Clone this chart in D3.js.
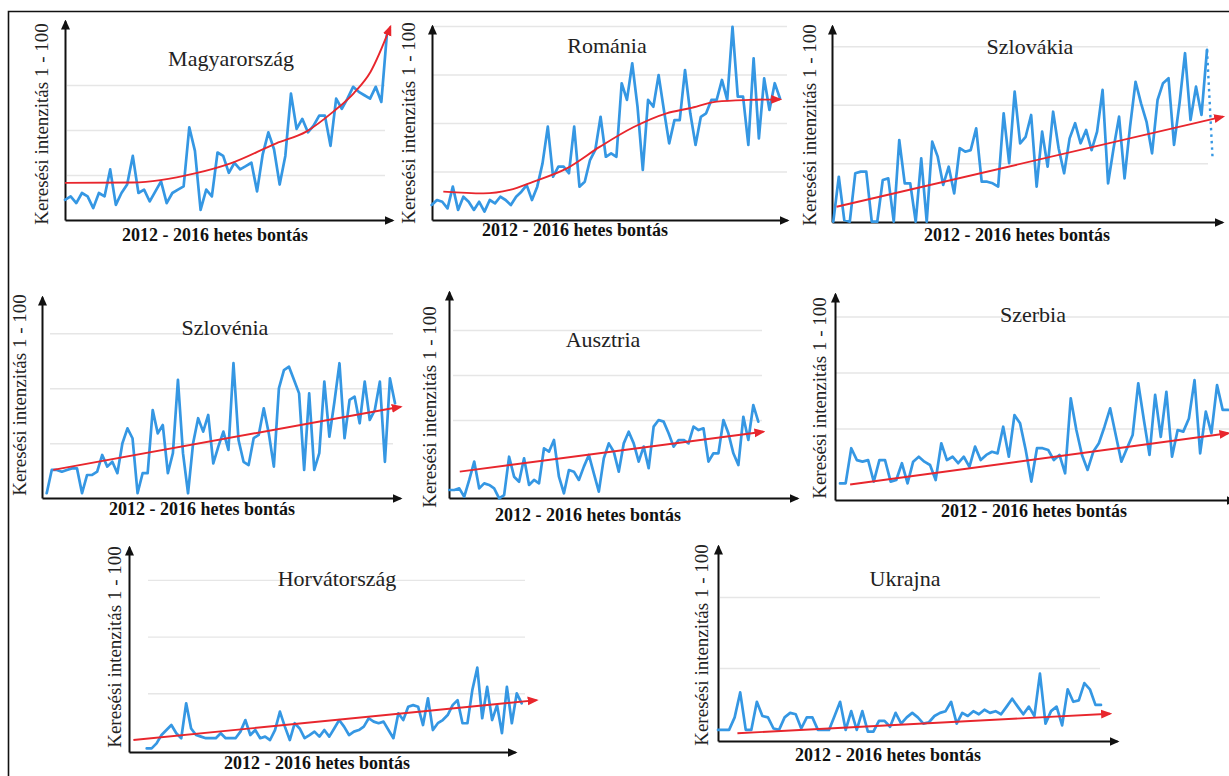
<!DOCTYPE html>
<html>
<head>
<meta charset="utf-8">
<script src="https://cdn.jsdelivr.net/npm/d3@7"></script>
<style>
  html, body { margin: 0; padding: 0; background: #fff; }
  svg { display: block; }
  svg text { font-family: "Liberation Serif", "DejaVu Serif", "Times New Roman", Times, serif; }
</style>
</head>
<body>
<svg id="chart" width="1229" height="776"></svg>
<script>
// ---- Data: weekly search intensity (0-100) per country, 2012-2016 ----
const countries = ["Magyarország", "Románia", "Szlovákia", "Szlovénia", "Ausztria", "Szerbia", "Horvátország", "Ukrajna"];
const xAxisLabel = "2012 - 2016 hetes bontás";
const yAxisLabel = "Keresési intenzitás 1 - 100";

const magyarorszag = [11.2,13.1,9.4,15,13.1,6.6,15,13.1,28.1,8.4,15,19.7,35.6,15,16.9,10.3,15.9,21.5,9.4,15,16.9,18.7,51.5,38.4,5.6,16.9,13.1,37.5,35.6,26.2,31.8,28.1,29.9,31.8,15.9,36.5,48.7,39.3,19.7,35.6,70.2,50.6,56.2,48.7,52.4,58,58,41.2,67.4,61.8,67.4,74,71.2,69.3,67.4,74,65.6,104];
const romania = [7.7,10.3,9.4,6,17.2,5.2,12,9.4,5.2,9.4,4.3,10.3,8.6,12,10.3,7.7,12,14.6,18,10.3,17.2,29.2,48.1,22.3,27.5,27.5,24.1,48.1,17.2,19.7,30.9,36.1,53.2,32.6,34.4,32.6,70.5,61.9,80.8,58.4,25.8,61.9,58.4,74.7,56.7,39.5,51.5,51.5,77.3,55,38.7,53.2,55,61.9,61.9,72.2,61.9,99.6,63.6,63.6,38.7,83.3,42.1,73,56.7,70.5,62.7];
const szlovakia = [0,19.2,0.7,0,20.7,21.4,21.4,0,0,17.8,18.5,0,34.9,16.4,16.4,0,27.1,0,34.2,27.8,15.7,23.5,12.1,31.4,29.9,30.6,39.9,17.1,17.1,16.4,15,46.3,25,55.6,33.5,36.3,45.6,15,38.5,23.5,47,31.4,20.7,35.6,42.1,33.5,39.2,30.6,38.5,56.3,16.4,31.4,44.9,18.5,40.6,59.8,50.6,42.7,29.2,52,59.2,61.3,32.8,50.6,72,43.5,57.7,45.6,73.4,27.6];
const szlovenia = [2.3,12.9,12.9,12.1,12.9,13.6,13.6,2.3,10.6,10.6,12.1,19.7,14.4,16.6,11.4,25,31.8,27.3,2.3,11.4,11.4,40.1,29.5,33.3,11.4,20.5,53.8,20.5,2.3,25,36.4,30.3,37.9,15.9,23.5,30.3,22,61.4,26.5,16.6,15.1,27.3,28.8,40.9,29.5,14.4,50,58.3,59.8,53.8,47.7,12.9,47.7,12.9,20.5,53,28,43.9,61.4,27.3,44.7,46.2,34.1,53,35.6,40.1,53,16.6,54.5,43.2];
const ausztria = [11.1,11.1,12,7.4,16.7,26.9,12,14.8,13.9,12,6.5,8.3,29.6,18.5,15.7,28.7,13.9,16.7,14.8,34.3,32.4,38.9,18.5,9.3,22.2,21.3,16.7,24.1,30.6,20.4,10.2,28.7,37,32.4,21.3,37,43.5,37,26.9,35.2,23.2,46.3,50,49.1,42.6,35.2,38.9,38.9,37,46.3,44.4,45.4,26.9,31.5,31.5,50,42.6,31.5,25,51.8,38.9,58.3,49.1];
const szerbia = [0.5,0.5,16.2,10.9,10.2,10.9,1.3,10.9,10.9,1.3,2,9.5,0.5,10.2,12.4,10.2,8.7,2,18.4,10.9,12.4,9.5,12.4,7.9,16.9,10.9,13.2,14.6,13.9,25.8,12.4,31,27.3,15.4,1.3,16.2,16.2,15.4,10.9,13.2,5,38.5,24.3,13.2,6.5,14.6,18.4,25.8,34,22.1,10.2,16.2,22.1,45.2,28.8,13.2,40,21.3,41.4,12.4,24.3,23.6,29.5,46.6,13.9,32.5,22.9,44.4,33.3,33.3];
const horvatorszag = [0.7,0.7,2.9,6.6,8.8,11,7.4,5.2,20.6,9.5,6.6,5.9,5.2,5.2,5.2,7.4,5.2,5.2,5.2,8.1,13.2,6.6,8.8,5.2,5.9,4.4,8.8,16.9,10.3,4.4,11.8,9.5,5.2,6.6,8.1,5.9,8.8,5.9,9.5,13.2,10.3,6.6,8.1,8.8,10.3,14,12.5,11.8,12.5,8.8,5.2,16.2,13.2,19.1,19.8,19.1,11,22.8,8.8,11.8,13.2,15.4,19.8,22,11.8,11.8,26.5,36.3,14,27.8,13.2,19.8,7.4,27.8,11.8,25,20.6];
const ukrajna = [3.2,3.2,3.2,7.6,16.4,3.2,3.2,13.1,8.1,7.6,3.7,3.2,7.6,9.2,8.7,3.7,7.6,7.6,3.2,3.2,3.2,8.1,13.1,3.2,9.8,3.2,9.8,2.6,2.6,6.4,6.4,4.3,9.2,5.4,7.6,9.2,7.6,5.4,5.9,8.1,9.2,9.8,13.1,5.4,9.2,8.1,9.8,8.7,10.3,9.2,9.8,8.7,11.4,14.2,11.4,8.7,11.4,8.1,23,5.4,9.8,11.4,4.8,17.5,13.1,13.6,19.7,17.5,12,12];

// Trend lines: [week index, value]
const trendMagyarorszag = [[0,20.6],[12,20.8],[23,25.9],[29.3,31.5],[37.4,42.6],[42.7,49.1],[47.5,60.2],[51.1,70.4],[54.1,82.4],[57.6,107.4]];
const trendRomania = [[2.2,14.6],[9.8,13.7],[14.8,15.5],[19.2,19.7],[25.6,26.6],[31.9,37.8],[38.2,47.8],[44.5,55],[48.9,57.6],[54,61],[60.3,61.9],[66,62.2]];
const trendSzlovakia = [[0.6,6.4],[70.9,44.9]];
const trendSzlovenia = [[1.3,12.9],[70.1,41.6]];
const trendAusztria = [[2.1,21.3],[63,43.5]];
const trendSzerbia = [[1.8,0],[69,22.9]];
const trendHorvatorszag = [[-2.7,4.4],[79,22]];
const trendUkrajna = [[3.5,2],[70.6,8.9]];

// Gridline values
const gridMagyarorszag = [25, 50, 75];
const gridRomania = [25, 50, 75, 100];
const gridSzlovakia = [25, 50, 75];
const gridSzlovenia = [25, 50, 75];
const gridAusztria = [50, 75, 100];
const gridSzerbia = [25, 50, 75];
const gridHorvatorszag = [25, 50, 75];
const gridUkrajna = [25, 50];

// ---- Layout of the eight small panels ----
const panels = [
  { name: countries[0], values: magyarorszag, trend: trendMagyarorszag, grid: gridMagyarorszag,
    line: [65, 387], zero: 220, hundred: 40, gridX: [67, 385],
    axisX: 65, axisY: 220, arrowX: 392, arrowY: 21,
    title: [231, 61], xlab: [215, 237], ylab: [44, 124] },
  { name: countries[1], values: romania, trend: trendRomania, grid: gridRomania,
    line: [431.7, 780], zero: 220, hundred: 26, gridX: [433, 787],
    axisX: 432, axisY: 220, arrowX: 787, arrowY: 26,
    title: [607, 48], xlab: [575, 232], ylab: [411, 123] },
  { name: countries[2], values: szlovakia, trend: trendSzlovakia, grid: gridSzlovakia, dottedTail: true,
    line: [833.3, 1212.5], zero: 221.7, hundred: -12.3, gridX: [833, 1208],
    axisX: 832, axisY: 222, arrowX: 1222, arrowY: 26,
    title: [1030, 49], xlab: [1017, 237], ylab: [812, 125] },
  { name: countries[3], values: szlovenia, trend: trendSzlovenia, grid: gridSzlovenia,
    line: [46.7, 395], zero: 498.3, hundred: 278.3, gridX: [50, 393],
    axisX: 42, axisY: 498, arrowX: 400, arrowY: 297,
    title: [225, 330], xlab: [202, 511], ylab: [22, 395] },
  { name: countries[4], values: ausztria, trend: trendAusztria, grid: gridAusztria,
    line: [449.3, 758.3], zero: 510, hundred: 330, gridX: [453, 762],
    axisX: 449, axisY: 498, arrowX: 797, arrowY: 292,
    title: [603, 342], xlab: [588, 517], ylab: [432, 407] },
  { name: countries[5], values: szerbia, trend: trendSzerbia, grid: gridSzerbia,
    line: [840, 1228.3], zero: 484.5, hundred: 260.5, gridX: [835, 1229],
    axisX: 835, axisY: 500, arrowX: 1234, arrowY: 294,
    title: [1033, 317], xlab: [1034, 513], ylab: [822, 398] },
  { name: countries[6], values: horvatorszag, trend: trendHorvatorszag, grid: gridHorvatorszag,
    line: [146.7, 521.7], zero: 750, hundred: 523.2, gridX: [148, 525],
    axisX: 129, axisY: 752, arrowX: 515, arrowY: 547,
    title: [337, 581], xlab: [317, 765], ylab: [117, 647] },
  { name: countries[7], values: ukrajna, trend: trendUkrajna, grid: gridUkrajna,
    line: [718, 1101], zero: 739, hundred: 455, gridX: [720, 1100],
    axisX: 718, axisY: 741, arrowX: 1117, arrowY: 546,
    title: [905, 581], xlab: [888, 757], ylab: [704, 645] }
];

const BLUE = "#3597e3";
const RED = "#e8262d";

const svg = d3.select("#chart");
const defs = svg.append("defs");

defs.append("marker")
  .attr("id", "axisHead").attr("viewBox", "0 -5 10 10")
  .attr("refX", 8).attr("refY", 0)
  .attr("markerWidth", 10).attr("markerHeight", 10)
  .attr("markerUnits", "userSpaceOnUse").attr("orient", "auto")
  .append("path").attr("d", "M0,-4.5L10,0L0,4.5Z").attr("fill", "#111");

defs.append("marker")
  .attr("id", "trendHead").attr("viewBox", "0 -5 10 10")
  .attr("refX", 8).attr("refY", 0)
  .attr("markerWidth", 11).attr("markerHeight", 11)
  .attr("markerUnits", "userSpaceOnUse").attr("orient", "auto")
  .append("path").attr("d", "M0,-4L10,0L0,4Z").attr("fill", RED);

// outer frame (left and top edges)
svg.append("path")
  .attr("d", "M8.5,776V11.5H1229")
  .attr("fill", "none").attr("stroke", "#111").attr("stroke-width", 1.6);

panels.forEach(p => {
  const g = svg.append("g").attr("class", "panel");
  const n = p.values.length;
  const x = d3.scaleLinear().domain([0, n - 1]).range(p.line);
  const y = d3.scaleLinear().domain([0, 100]).range([p.zero, p.hundred]);

  // horizontal gridlines
  const grid = g.append("g")
    .attr("transform", `translate(${p.gridX[0]},0)`)
    .call(d3.axisLeft(y).tickValues(p.grid).tickSize(-(p.gridX[1] - p.gridX[0])).tickFormat(""));
  grid.select(".domain").remove();
  grid.selectAll("line").attr("stroke", "#e6e6e6").attr("stroke-width", 1.4);

  // axes with arrowheads
  const xa = d3.scaleLinear().range([p.axisX, p.arrowX]);
  const xAxisG = g.append("g").attr("transform", `translate(0,${p.axisY})`)
    .call(d3.axisBottom(xa).tickValues([]).tickSizeOuter(0));
  xAxisG.select(".domain").attr("stroke", "#111").attr("stroke-width", 2).attr("marker-end", "url(#axisHead)");

  const ya = d3.scaleLinear().range([p.axisY, p.arrowY]);
  const yAxisG = g.append("g").attr("transform", `translate(${p.axisX},0)`)
    .call(d3.axisLeft(ya).tickValues([]).tickSizeOuter(0));
  yAxisG.select(".domain").attr("stroke", "#111").attr("stroke-width", 2).attr("marker-end", "url(#axisHead)");

  // weekly series
  const solid = p.dottedTail ? p.values.slice(0, n - 1) : p.values;
  const line = d3.line().x((d, i) => x(i)).y(d => y(d));
  g.append("path").datum(solid)
    .attr("d", line)
    .attr("fill", "none").attr("stroke", BLUE).attr("stroke-width", 2.7)
    .attr("stroke-linejoin", "round").attr("stroke-linecap", "round");

  if (p.dottedTail) {
    const tail = p.values.slice(n - 2);
    const tailLine = d3.line().x((d, i) => x(n - 2 + i)).y(d => y(d));
    g.append("path").datum(tail)
      .attr("d", tailLine)
      .attr("fill", "none").attr("stroke", BLUE).attr("stroke-width", 2.4)
      .attr("stroke-dasharray", "2.5,4");
  }

  // trend
  const tLine = d3.line().x(d => x(d[0])).y(d => y(d[1]))
    .curve(p.trend.length > 2 ? d3.curveMonotoneX : d3.curveLinear);
  g.append("path").datum(p.trend)
    .attr("d", tLine)
    .attr("fill", "none").attr("stroke", RED).attr("stroke-width", 1.9)
    .attr("marker-end", "url(#trendHead)");

  // texts
  g.append("text")
    .attr("x", p.title[0]).attr("y", p.title[1])
    .attr("text-anchor", "middle").attr("dominant-baseline", "middle")
    .attr("font-size", 22).attr("fill", "#222")
    .text(p.name);

  g.append("text")
    .attr("x", p.xlab[0]).attr("y", p.xlab[1])
    .attr("text-anchor", "middle").attr("dominant-baseline", "middle")
    .attr("font-size", 18).attr("font-weight", "bold").attr("fill", "#111")
    .text(xAxisLabel);

  g.append("text")
    .attr("transform", `translate(${p.ylab[0]},${p.ylab[1]}) rotate(-90)`)
    .attr("text-anchor", "middle").attr("dominant-baseline", "middle")
    .attr("font-size", 19).attr("fill", "#222")
    .text(yAxisLabel);
});
</script>
</body>
</html>
